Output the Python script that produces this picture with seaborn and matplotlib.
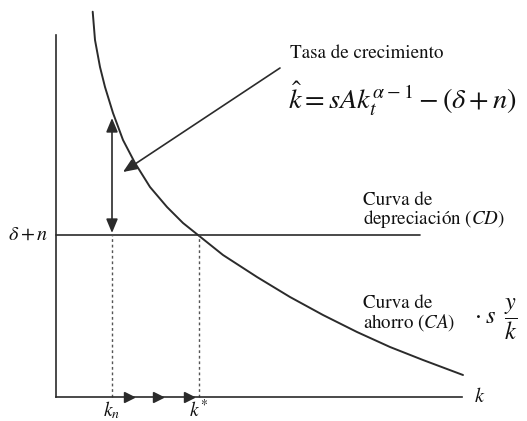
import matplotlib
matplotlib.use("Agg")
import matplotlib.pyplot as plt
import seaborn as sns

# curva de ahorro s*y/k (k, y)
k_curve = [36.7, 39, 44, 49, 57, 67, 79, 94, 111, 127, 142, 167, 201, 234, 267, 301, 334, 367, 407]
y_curve = [385.3, 357, 330, 310, 284, 257, 234, 210, 190, 174, 162, 142, 120, 100, 82, 65, 50, 37, 22]

dep_level = 162          # delta + n
dep_end = 364
k_n = 56
k_star = 143
growth_top = 279         # tope de la flecha vertical
flow_k = [73, 102, 133]  # flechas sobre el eje k
pointer_from = (224, 329)
pointer_to = (67, 225)

sns.set_style("white")
plt.rcParams['font.family'] = ['STIXGeneral', 'DejaVu Serif']
plt.rcParams['mathtext.fontset'] = 'stix'

ink = "#2b2b2b"
txt = "#111111"

fig = plt.figure(figsize=(5.27, 4.21), dpi=100)
ax = fig.add_axes([0, 0, 1, 1])
ax.set_xlim(-56, 471)
ax.set_ylim(-24, 397)

sns.lineplot(x=k_curve, y=y_curve, sort=False, color=ink, lw=1.4, ax=ax)
ax.plot([0, dep_end], [dep_level, dep_level], color=ink, lw=1.2)

for k in (k_n, k_star):
    ax.plot([k, k], [0, dep_level], color="#555555", lw=1.0, ls=(0, (2, 2)))

ax.annotate("", xy=(k_n, growth_top), xytext=(k_n, dep_level + 2),
            arrowprops=dict(arrowstyle="<|-|>,head_length=0.6,head_width=0.25",
                            color=ink, lw=1.2, mutation_scale=14, shrinkA=0, shrinkB=0))
ax.annotate("", xy=pointer_to, xytext=pointer_from,
            arrowprops=dict(arrowstyle="-|>,head_length=0.6,head_width=0.25",
                            color=ink, lw=1.2, mutation_scale=14, shrinkA=0, shrinkB=0))
ax.plot(flow_k, [0] * len(flow_k), ls="none", marker=">", ms=6.5, color=ink)

# ejes
for side in ("top", "right"):
    ax.spines[side].set_visible(False)
ax.spines["left"].set_position(("data", 0))
ax.spines["bottom"].set_position(("data", 0))
ax.spines["left"].set_bounds(0, 362)
ax.spines["bottom"].set_bounds(0, 406)
for side in ("left", "bottom"):
    ax.spines[side].set_color(ink)
    ax.spines[side].set_linewidth(1.2)
ax.set_xticks([])
ax.set_yticks([])
ax.patch.set_alpha(0)

# textos
ax.text(-8, dep_level, r"$\delta + n$", ha="right", va="center", fontsize=14.5, color=txt)
ax.text(k_n, -13, r"$k_n$", ha="center", va="center", fontsize=14, color=txt)
ax.text(k_star, -13, r"$k^{*}$", ha="center", va="center", fontsize=14, color=txt)
ax.text(418, 0, r"$k$", ha="left", va="center", fontsize=14.5, color=txt)
ax.text(234, 344, "Tasa de crecimiento", ha="left", va="center", fontsize=13.7, color=txt)
ax.text(232, 298, r"$\hat{k} = sAk_t^{\alpha-1} - (\delta + n)$", ha="left", va="center",
        fontsize=20.5, color=txt)
ax.text(307, 186, "Curva de\ndepreciación $\\mathit{(CD)}$", ha="left", va="center",
        fontsize=13.7, color=txt, linespacing=0.95)
ax.text(307, 83, "Curva de\nahorro $\\mathit{(CA)}$", ha="left", va="center",
        fontsize=13.7, color=txt, linespacing=0.95)
ax.text(418, 78, r"$\cdot\;s\;\;\dfrac{y}{k}$", ha="left", va="center", fontsize=17.5, color=txt)

fig.savefig("out.png", dpi=100)
